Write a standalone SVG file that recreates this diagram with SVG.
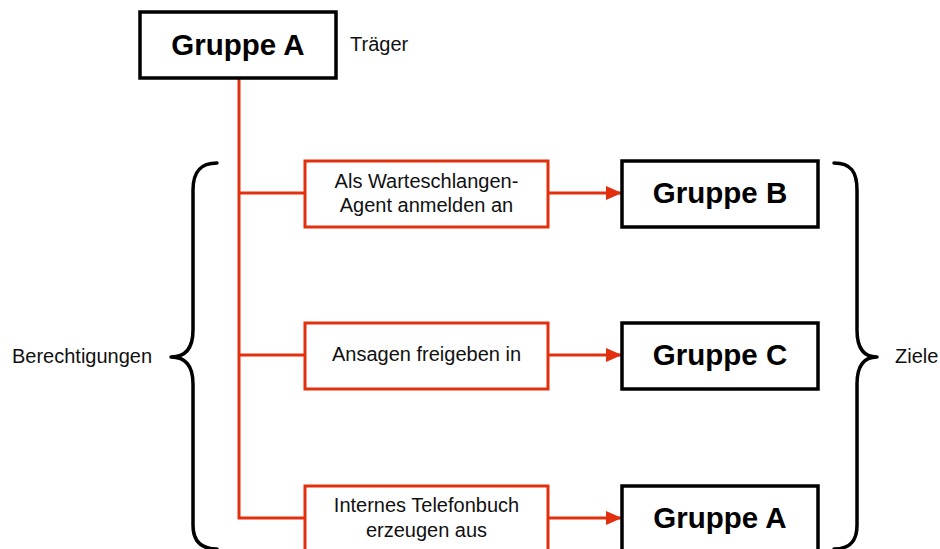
<svg xmlns="http://www.w3.org/2000/svg" width="940" height="549" viewBox="0 0 940 549">
<defs>
<style>
.bk{fill:#fff;stroke:#000;stroke-width:3.5}
.rb{fill:#fff;stroke:#e2300f;stroke-width:3}
.bt{font-family:"Liberation Sans",Arial,sans-serif;font-weight:bold;font-size:29.500px;fill:#000;text-anchor:middle}
.rt{font-family:"Liberation Sans",Arial,sans-serif;font-size:20px;fill:#111;text-anchor:middle}
.lt{font-family:"Liberation Sans",Arial,sans-serif;font-size:20px;fill:#111}
.ln{fill:none;stroke:#e2300f;stroke-width:3}
.br{fill:none;stroke:#000;stroke-width:3.5;stroke-linecap:round;stroke-linejoin:round}
</style>
<marker id="ah" markerWidth="16" markerHeight="14" refX="16" refY="7" orient="auto" markerUnits="userSpaceOnUse">
<path d="M0,0 L16,7 L0,14 Z" fill="#e2300f"/>
</marker>
</defs>
<rect width="940" height="549" fill="#fff"/>
<g id="connectors">
<path class="ln" d="M239 78 L239 518 L305 518"/>
<path class="ln" d="M239 193 L305 193"/>
<path class="ln" d="M239 355 L305 355"/>
<path class="ln" d="M548 193 L622 193" marker-end="url(#ah)"/>
<path class="ln" d="M548 355 L622 355" marker-end="url(#ah)"/>
<path class="ln" d="M548 518 L622 518" marker-end="url(#ah)"/>
</g>
<g id="braces">
<path class="br" d="M217 163 C200 163 193 172 193 190 L193 330 C193 348 186 357 171 357 C186 357 193 366 193 384 L193 525 C193 540 200 549 217 549"/>
<path class="br" d="M834 163 C851 163 857 172 857 190 L857 330 C857 348 864 357 877 357 C864 357 857 366 857 384 L857 525 C857 540 851 549 834 549"/>
</g>
<g id="node-gruppe-a-top">
<rect class="bk" x="140" y="12" width="196" height="66"/>
<text class="bt" x="238" y="55">Gruppe A</text>
</g>
<g id="label-traeger"><text class="lt" x="350" y="51">Träger</text></g>
<g id="label-berechtigungen"><text class="lt" x="12" y="363">Berechtigungen</text></g>
<g id="label-ziele"><text class="lt" x="895" y="363">Ziele</text></g>
<g id="node-perm1">
<rect class="rb" x="305" y="161" width="243" height="66"/>
<text class="rt" x="426.500" y="188">Als Warteschlangen-</text>
<text class="rt" x="426.500" y="212">Agent anmelden an</text>
</g>
<g id="node-perm2">
<rect class="rb" x="305" y="323" width="243" height="66"/>
<text class="rt" x="426.500" y="361">Ansagen freigeben in</text>
</g>
<g id="node-perm3">
<rect class="rb" x="305" y="486" width="243" height="66"/>
<text class="rt" x="426.500" y="512">Internes Telefonbuch</text>
<text class="rt" x="426.500" y="537">erzeugen aus</text>
</g>
<g id="node-gruppe-b">
<rect class="bk" x="622" y="161" width="196" height="66"/>
<text class="bt" x="720" y="203">Gruppe B</text>
</g>
<g id="node-gruppe-c">
<rect class="bk" x="622" y="323" width="196" height="66"/>
<text class="bt" x="720" y="365">Gruppe C</text>
</g>
<g id="node-gruppe-a-bottom">
<rect class="bk" x="622" y="486" width="196" height="66"/>
<text class="bt" x="720" y="528">Gruppe A</text>
</g>
</svg>
